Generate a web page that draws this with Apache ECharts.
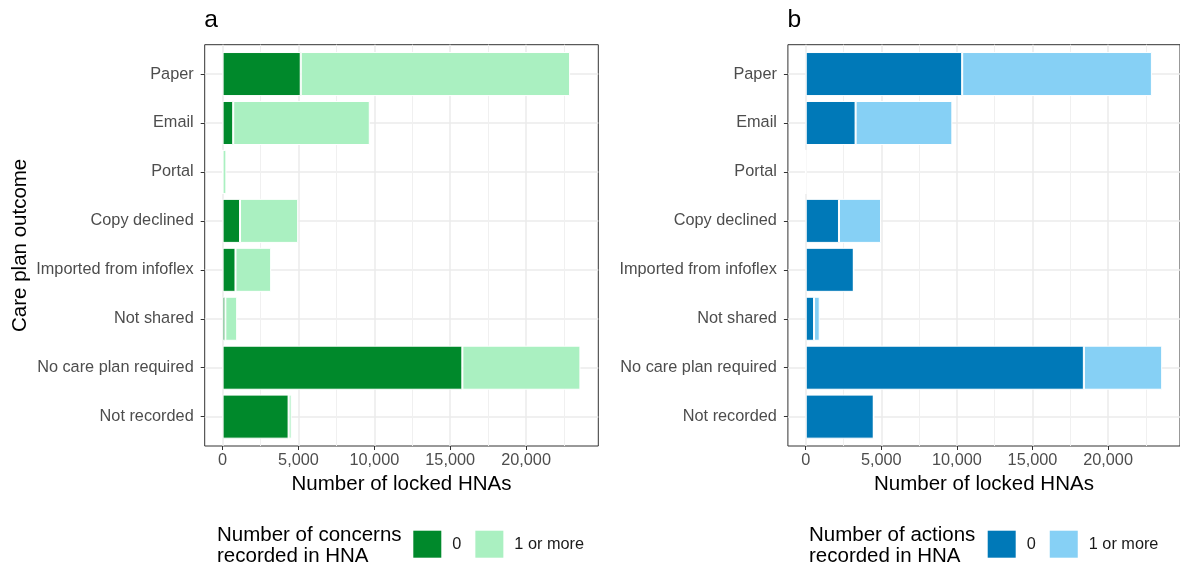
<!DOCTYPE html>
<html>
<head>
<meta charset="utf-8">
<script src="https://cdn.jsdelivr.net/npm/echarts@6/dist/echarts.min.js"></script>
<style>
  html, body { margin: 0; padding: 0; background: #ffffff; }
  #chart { width: 1180px; height: 564px; }
</style>
</head>
<body>
<div id="chart"></div>
<script>
// Care plan outcome categories, top to bottom
const categories = ['Paper', 'Email', 'Portal', 'Copy declined', 'Imported from infoflex',
  'Not shared', 'No care plan required', 'Not recorded'];

// Panel a: locked HNAs by number of concerns recorded
const concernsNone = [5150, 700, 0, 1150, 850, 180, 15800, 4350];
const concernsSome = [17750, 9000, 250, 3830, 2350, 780, 7780, 200];

// Panel b: locked HNAs by number of actions recorded
const actionsNone = [10350, 3300, 0, 2200, 3180, 550, 18400, 4500];
const actionsSome = [12550, 6400, 0, 2780, 0, 375, 5180, 0];

// Axis ticks and legend labels
const majorTicks = [0, 5000, 10000, 15000, 20000];
const minorTicks = [2500, 7500, 12500, 17500, 22500];
const legendLabels = ['0', '1 or more'];

// Value range with 5% padding either side of the largest total
const X_MIN = -1179;
const X_MAX = 24759;

const FONT = "'Liberation Sans', Arial, Helvetica, sans-serif";
const AXIS_TEXT = 16.3;
const TITLE_TEXT = 20.5;

const PANEL_TOP = 44.7;
const PANEL_H = 401.3;
const PANEL_W = 393.6;
const UNIT = PANEL_H / (categories.length - 1 + 1.2); // discrete axis padding of 0.6 each side

const panels = [
  {
    tag: 'a', left: 204.7,
    none: concernsNone, some: concernsSome,
    colors: ['#00892B', '#AAF0C1'],
    legendTitle: 'Number of concerns\nrecorded in HNA', legendTitleX: 217, legendX: 413.3,
    yName: 'Care plan outcome'
  },
  {
    tag: 'b', left: 787.9,
    none: actionsNone, some: actionsSome,
    colors: ['#0079B8', '#86D0F5'],
    legendTitle: 'Number of actions\nrecorded in HNA', legendTitleX: 809, legendX: 987.7,
    yName: ''
  }
];

const grid = [], xAxis = [], yAxis = [], series = [], legend = [], graphic = [];

panels.forEach((p, i) => {
  // outer grid: panel frame, gridlines, value ticks
  grid.push({
    left: p.left, top: PANEL_TOP, width: PANEL_W, height: PANEL_H,
    show: true, borderColor: '#333333', borderWidth: 1, backgroundColor: 'transparent'
  });
  // inner grid: the category bands
  grid.push({
    left: p.left, top: PANEL_TOP + 0.1 * UNIT, width: PANEL_W, height: categories.length * UNIT
  });

  // major value axis
  xAxis.push({
    type: 'value', gridIndex: 2 * i, min: X_MIN, max: X_MAX, position: 'bottom',
    name: 'Number of locked HNAs', nameLocation: 'middle', nameGap: 26,
    nameTextStyle: { fontFamily: FONT, fontSize: TITLE_TEXT, color: '#000000' },
    axisLine: { show: false, onZero: false },
    axisTick: { show: true, customValues: majorTicks, length: 4, lineStyle: { color: '#333333', width: 1 } },
    axisLabel: {
      show: true, customValues: majorTicks, margin: 7,
      fontFamily: FONT, fontSize: AXIS_TEXT, color: '#4d4d4d',
      formatter: v => v.toLocaleString('en-US')
    },
    splitLine: { show: true, lineStyle: { color: '#ebebeb', width: 1.5 } }
  });
  // minor gridlines
  xAxis.push({
    type: 'value', gridIndex: 2 * i, min: X_MIN, max: X_MAX, position: 'bottom',
    axisLine: { show: false, onZero: false },
    axisTick: { show: false, customValues: minorTicks },
    axisLabel: { show: false },
    splitLine: { show: true, lineStyle: { color: '#f0f0f0', width: 1 } }
  });
  // value axis carrying the bars
  xAxis.push({
    type: 'value', gridIndex: 2 * i + 1, min: X_MIN, max: X_MAX, show: false,
    axisLine: { onZero: false },
    splitLine: { show: false }
  });

  // horizontal gridlines and ticks at category centres
  yAxis.push({
    type: 'value', gridIndex: 2 * i, min: -0.6, max: categories.length - 1 + 0.6, inverse: true,
    position: 'left',
    name: p.yName, nameLocation: 'middle', nameGap: 174, nameRotate: 90,
    nameTextStyle: { fontFamily: FONT, fontSize: TITLE_TEXT, color: '#000000' },
    axisLine: { show: false, onZero: false },
    axisTick: { show: true, customValues: categories.map((c, k) => k), length: 4,
      lineStyle: { color: '#333333', width: 1 } },
    axisLabel: { show: false },
    splitLine: { show: true, lineStyle: { color: '#ebebeb', width: 1.5 } }
  });
  // category axis with outcome labels
  yAxis.push({
    type: 'category', gridIndex: 2 * i + 1, data: categories, inverse: true, position: 'left',
    axisLine: { show: false, onZero: false }, axisTick: { show: false },
    splitLine: { show: false },
    axisLabel: { margin: 11, fontFamily: FONT, fontSize: AXIS_TEXT, color: '#4d4d4d' }
  });

  [p.none, p.some].forEach((vals, k) => {
    series.push({
      type: 'bar', name: legendLabels[k], stack: 'panel-' + p.tag,
      xAxisIndex: 3 * i + 2, yAxisIndex: 2 * i + 1,
      data: vals, barWidth: '90%', silent: true, animation: false,
      itemStyle: { color: p.colors[k], borderColor: '#ffffff', borderWidth: 1 }
    });
  });

  legend.push({
    left: p.legendX, top: 530.7, padding: 0, orient: 'horizontal',
    itemWidth: 28, itemHeight: 27, itemGap: 14, icon: 'rect', selectedMode: false,
    textStyle: { fontFamily: FONT, fontSize: AXIS_TEXT, color: '#1a1a1a', padding: [0, 0, 0, 6] },
    data: legendLabels.map((n, k) => ({
      name: n, itemStyle: { color: p.colors[k], borderWidth: 0 }
    }))
  });

  // panel tag
  graphic.push({
    type: 'text', left: p.left - 0.5, top: 8,
    style: { text: p.tag, font: `24.6px ${FONT}`, fill: '#000000' }
  });
  // legend title
  graphic.push({
    type: 'text', x: p.legendTitleX, y: 524.8,
    style: {
      text: p.legendTitle, font: `${TITLE_TEXT}px ${FONT}`, fill: '#000000',
      lineHeight: 21, verticalAlign: 'top', align: 'left'
    }
  });
});

const chart = echarts.init(document.getElementById('chart'), null, { renderer: 'canvas' });
chart.setOption({
  animation: false,
  backgroundColor: '#ffffff',
  grid, xAxis, yAxis, series, legend, graphic
});
</script>
</body>
</html>
